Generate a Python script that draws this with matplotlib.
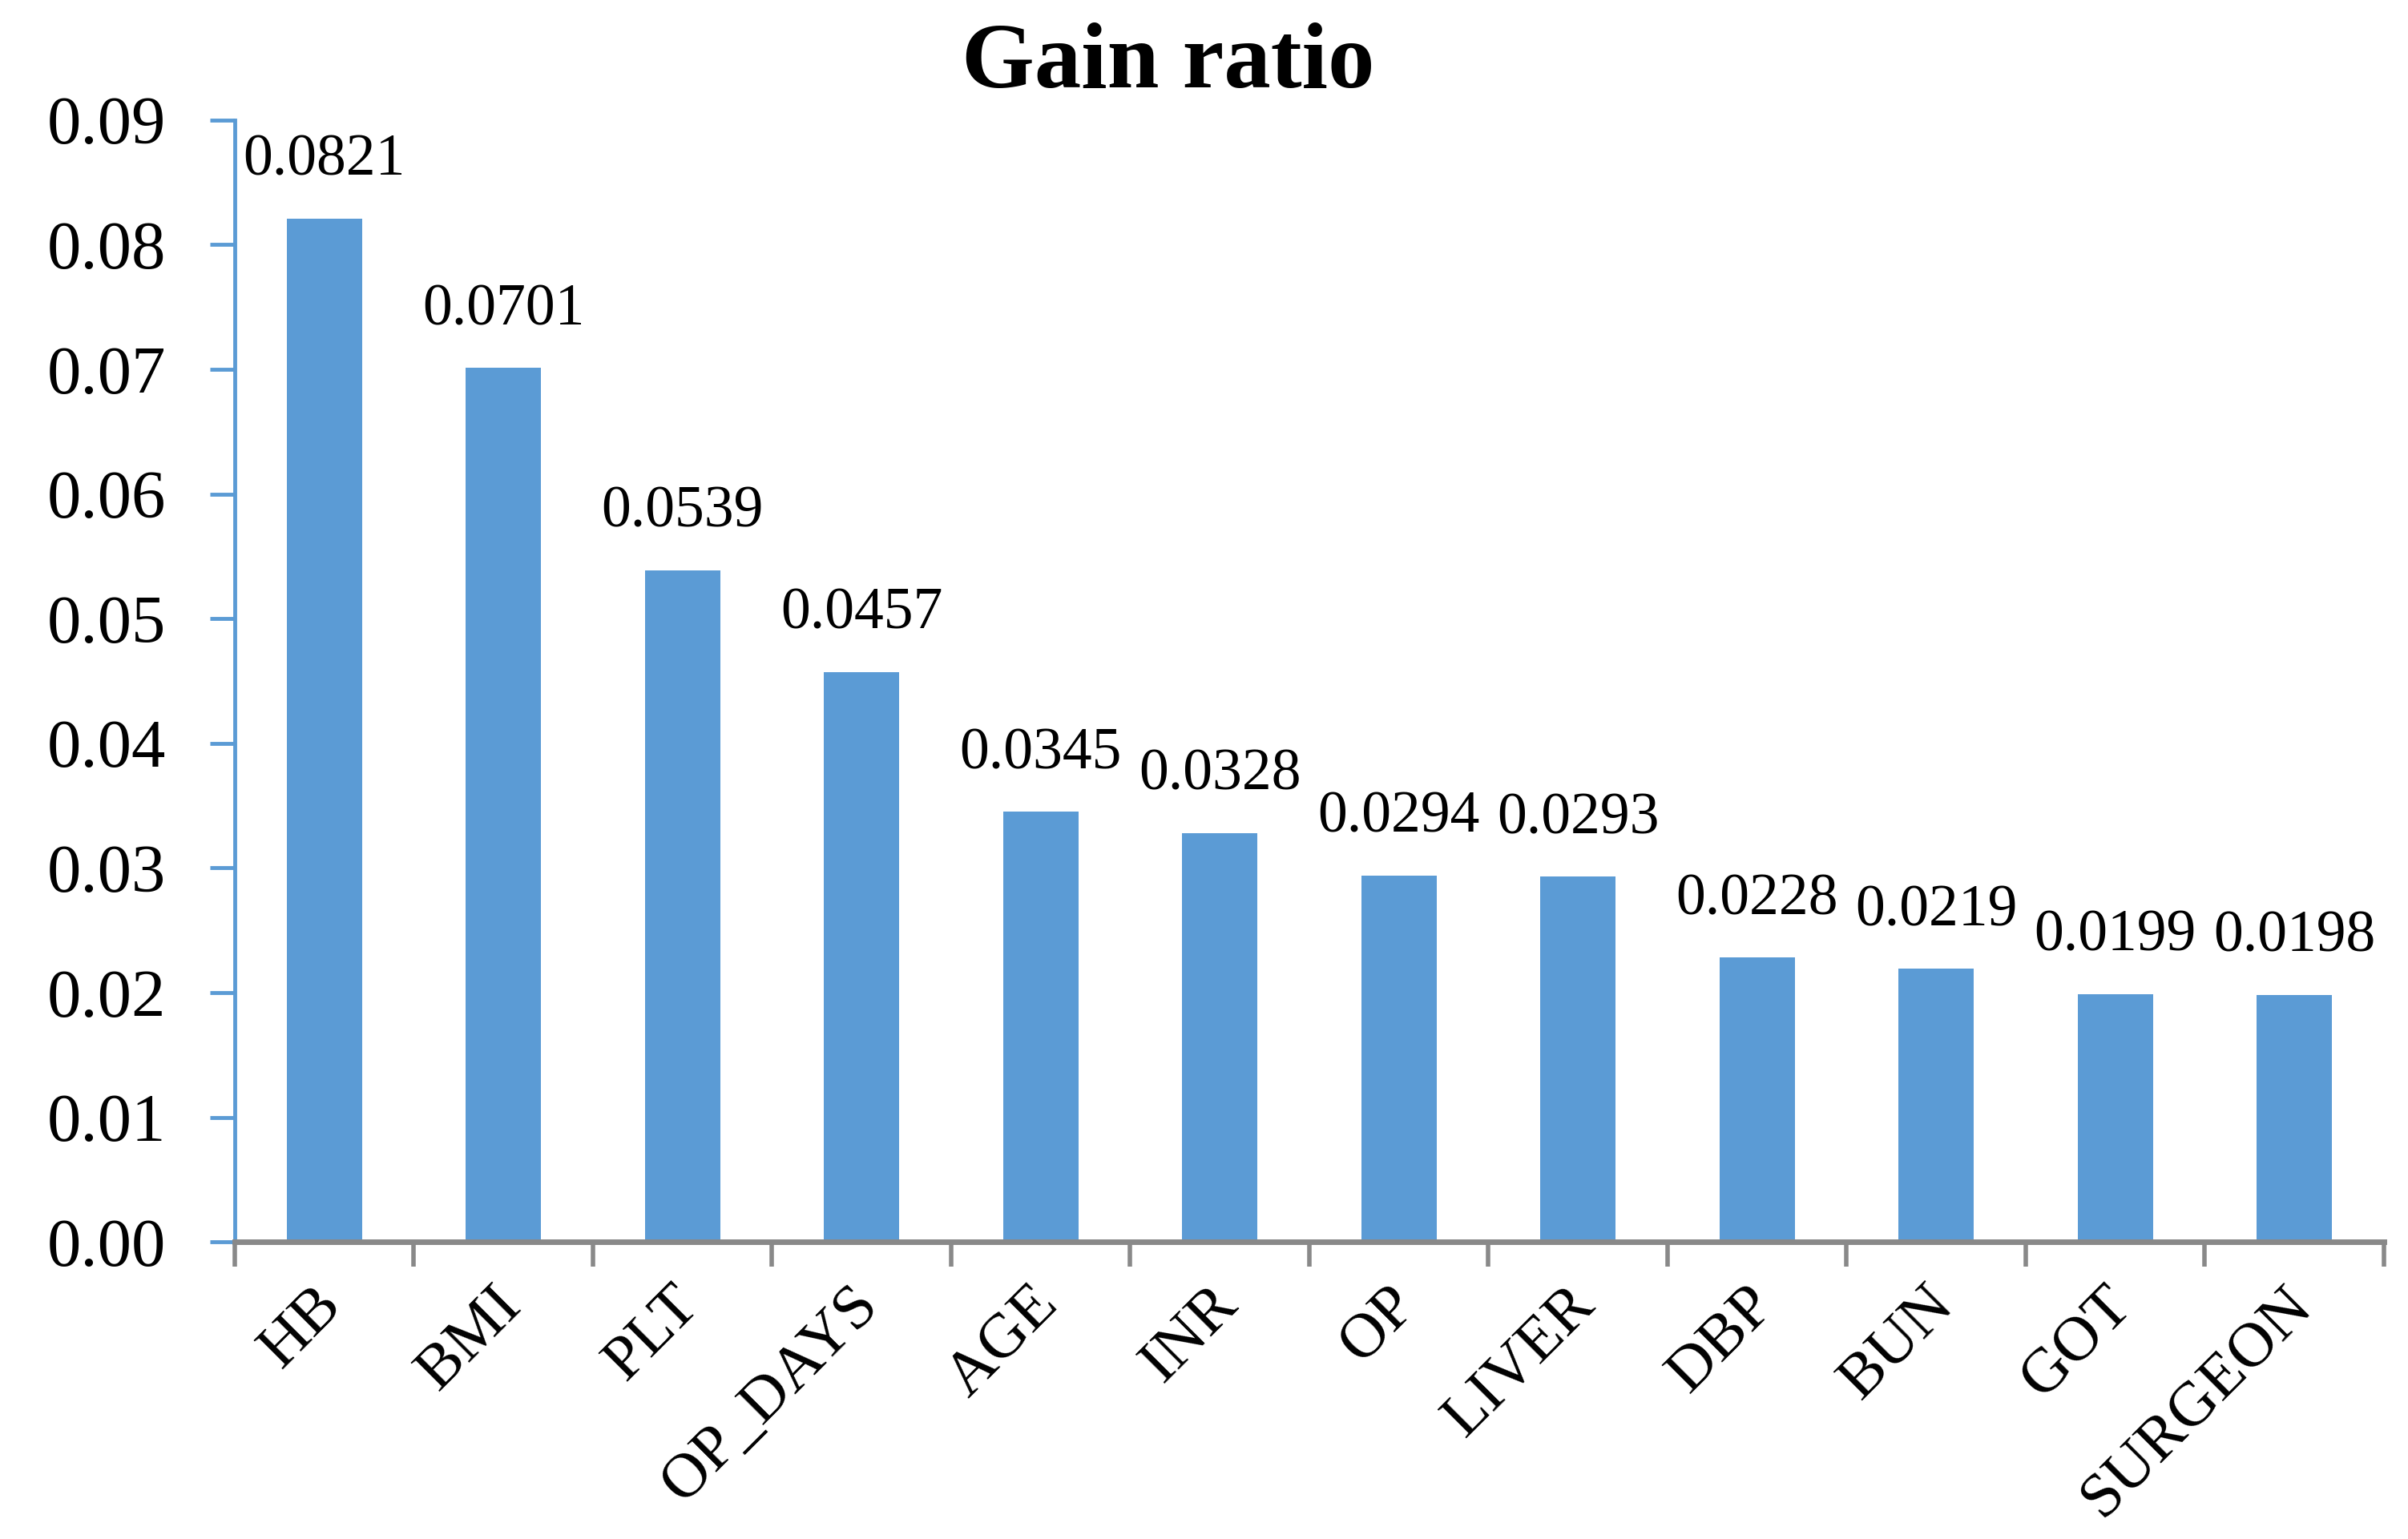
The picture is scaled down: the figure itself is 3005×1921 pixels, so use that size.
import matplotlib
matplotlib.use("Agg")
import matplotlib.pyplot as plt
from matplotlib.ticker import FixedLocator
from matplotlib.transforms import ScaledTranslation
import numpy as np

categories = ["HB", "BMI", "PLT", "OP_DAYS", "AGE", "INR", "OP", "LIVER",
              "DBP", "BUN", "GOT", "SURGEON"]
values = [0.0821, 0.0701, 0.0539, 0.0457, 0.0345, 0.0328, 0.0294, 0.0293,
          0.0228, 0.0219, 0.0199, 0.0198]
value_labels = ["0.0821", "0.0701", "0.0539", "0.0457", "0.0345", "0.0328",
                "0.0294", "0.0293", "0.0228", "0.0219", "0.0199", "0.0198"]
y_ticks = [0.00, 0.01, 0.02, 0.03, 0.04, 0.05, 0.06, 0.07, 0.08, 0.09]
y_tick_labels = ["0.00", "0.01", "0.02", "0.03", "0.04", "0.05", "0.06",
                 "0.07", "0.08", "0.09"]
title = "Gain ratio"

plt.rcParams['font.family'] = ['Liberation Serif', 'DejaVu Serif']

BAR = "#5B9BD5"
GRAY = "#898989"

fig = plt.figure(figsize=(30.05, 19.21), dpi=100)
ax = fig.add_axes([0.0975, 0.193, 0.8925, 0.922 - 0.193])

x = np.arange(len(categories))
ax.bar(x, values, width=0.42, color=BAR, zorder=2)

ax.set_xlim(-0.5, len(categories) - 0.5)
ax.set_ylim(0, 0.09)

for xi, v, lab in zip(x, values, value_labels):
    ax.annotate(lab, (xi, v), xytext=(0, 39), textcoords="offset points",
                ha="center", va="baseline", fontsize=53, color="black")

ax.set_yticks(y_ticks)
ax.set_yticklabels(y_tick_labels, fontsize=61)

# category labels (rotated, right end slightly left of category centre)
ax.set_xticks(x)
ax.set_xticklabels([])
ax.tick_params(axis="x", which="major", length=0)
lab_trans = ax.get_xaxis_transform() + ScaledTranslation(-0.15, -0.42,
                                                         fig.dpi_scale_trans)
for xi, cat in zip(x, categories):
    ax.text(xi, 0, cat, transform=lab_trans, fontsize=57, rotation=45,
            ha="right", va="top", rotation_mode="anchor", clip_on=False)

ax.xaxis.set_minor_locator(FixedLocator(np.arange(-0.5, len(categories), 1.0)))
ax.tick_params(axis="x", which="minor", length=22, width=4, color=GRAY,
               direction="out")
ax.tick_params(axis="y", which="major", length=22, width=3.5, color=BAR,
               direction="out", pad=40)

for s in ["top", "right"]:
    ax.spines[s].set_visible(False)
ax.spines["left"].set_color(BAR)
ax.spines["left"].set_linewidth(3.5)
ax.spines["bottom"].set_color(GRAY)
ax.spines["bottom"].set_linewidth(5)
ax.spines["bottom"].set_zorder(3)

fig.text(0.485, 0.958, title, ha="center", va="center",
         fontsize=84, fontweight="bold")

fig.savefig("out.png", dpi=100)
